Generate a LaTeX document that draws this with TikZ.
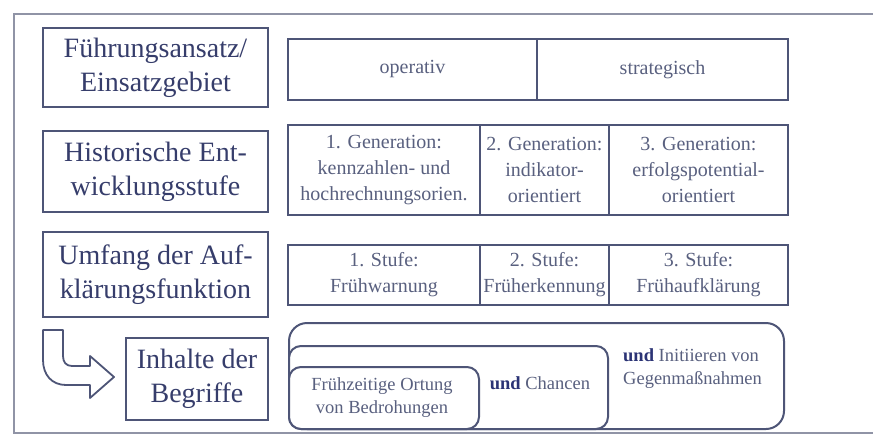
\documentclass[tikz,border=0pt]{standalone}
\usepackage{fontspec}
\setmainfont{Liberation Serif}
\definecolor{boxcol}{HTML}{4E5577}
\definecolor{lblcol}{HTML}{363D6B}
\definecolor{celltxt}{HTML}{59607F}
\definecolor{framecol}{HTML}{9094A6}
\definecolor{undcol}{HTML}{2B3375}
\newcommand{\undword}{{\color{undcol}\bfseries und}}
\begin{document}
\begin{tikzpicture}[x=1pt,y=-1pt,
  lbl/.style={draw=boxcol, line width=2.2pt, text=lblcol, align=center,
    inner sep=0pt, font=\fontsize{28}{34}\selectfont},
  cell/.style={draw=boxcol, line width=2pt, text=celltxt, align=center,
    inner sep=0pt, font=\fontsize{20}{26}\selectfont},
  celltext/.style={text=celltxt, inner sep=0pt, font=\fontsize{18.5}{23}\selectfont},
  rbox/.style={draw=boxcol, line width=2pt, fill=white, inner sep=0pt, anchor=north west},
  frameline/.style={draw=framecol, line width=2.4pt},
  bentarrow/.style={draw=boxcol, line width=1.8pt, fill=white, line join=round}
]
\useasboundingbox (0,0) rectangle (873,437);
\clip (0,0) rectangle (873,437);
\fill[white] (0,0) rectangle (873,437);

% outer frame, open to the right
\draw[frameline] (880,14) -- (14,14) -- (14,433) -- (880,433);

% row labels
\node[lbl, minimum width=225pt, minimum height=79pt] (lbl1) at (155.5,67.5) {Führungsansatz/\\Einsatzgebiet};
\node[lbl, minimum width=225pt, minimum height=81pt] (lbl2) at (155.5,171.5) {Historische Ent-\\wicklungsstufe};
\node[lbl, minimum width=225pt, minimum height=85pt] (lbl3) at (155.5,274.5) {Umfang der Auf-\\klärungsfunktion};
\node[lbl, minimum width=142pt, minimum height=82pt] (lbl4) at (197,379) {Inhalte der\\Begriffe};

% row 1
\node[cell, minimum width=249pt, minimum height=61pt] (op) at (412.5,69.5) {operativ};
\node[cell, minimum width=251pt, minimum height=61pt] (st) at (662.5,69.5) {strategisch};

% row 2
\node[cell, minimum width=192pt, minimum height=90pt] (g1) at (384,170) {1. Generation:\\kennzahlen- und\\hochrechnungsorien.};
\node[cell, minimum width=129pt, minimum height=90pt] (g2) at (544.5,170) {2. Generation:\\indikator-\\orientiert};
\node[cell, minimum width=179pt, minimum height=90pt] (g3) at (698.5,170) {3. Generation:\\erfolgspotential-\\orientiert};

% row 3
\node[cell, minimum width=192pt, minimum height=60pt] (s1) at (384,275) {1. Stufe:\\Frühwarnung};
\node[cell, minimum width=129pt, minimum height=60pt] (s2) at (544.5,275) {2. Stufe:\\Früherkennung};
\node[cell, minimum width=179pt, minimum height=60pt] (s3) at (698.5,275) {3. Stufe:\\Frühaufklärung};

% row 4: nested rounded boxes
\node[rbox, rounded corners=18pt, minimum width=495pt, minimum height=106pt] (b4o) at (288,322) {};
\node[rbox, rounded corners=12pt, minimum width=319pt, minimum height=83pt] (b4m) at (288,345) {};
\node[rbox, rounded corners=12pt, minimum width=190pt, minimum height=62pt] (b4i) at (288,366) {};
\node[celltext, anchor=west, align=left] (t4o) at (623,369) {\undword{} Initiieren von\\Gegenmaßnahmen};
\node[celltext] (t4m) at (540,383) {\undword{} Chancen};
\node[celltext, align=center] (t4i) at (382,398) {Frühzeitige Ortung\\von Bedrohungen};

% bent block arrow
\draw[bentarrow] (43,330) -- (43,360) .. controls (43,375) and (52,385) .. (66,385)
  -- (90,385) -- (90,398) -- (114,377) -- (90,356) -- (90,366) -- (72,366)
  .. controls (66,366) and (63,362) .. (63,356) -- (63,330) -- cycle;
\end{tikzpicture}
\end{document}
